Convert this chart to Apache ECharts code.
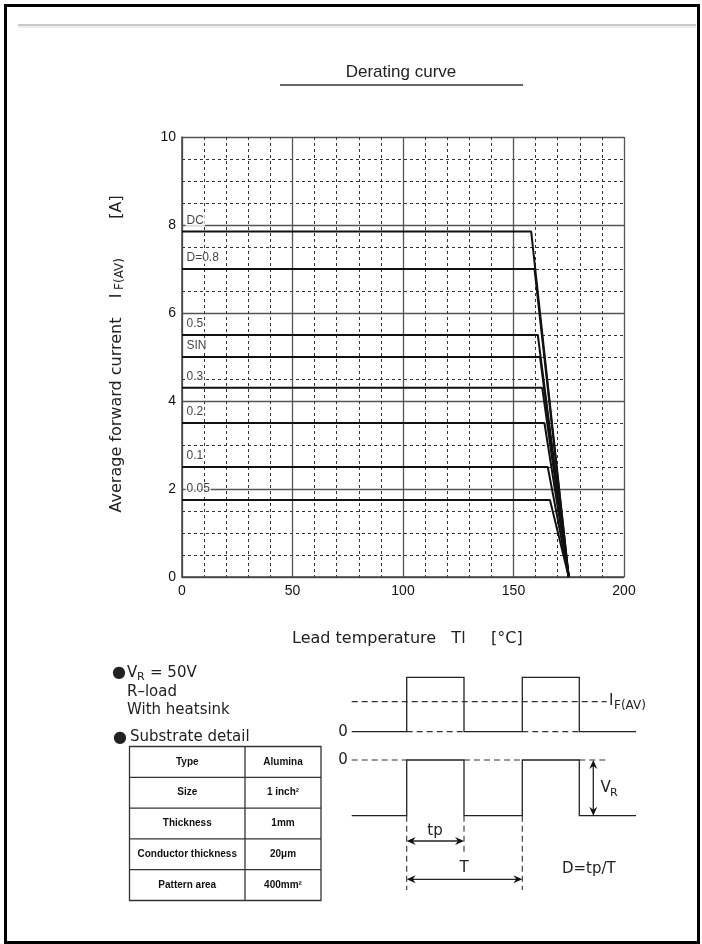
<!DOCTYPE html>
<html>
<head>
<meta charset="utf-8">
<script src="https://cdn.jsdelivr.net/npm/echarts@6/dist/echarts.min.js"></script>
<style>
html,body{margin:0;padding:0;background:#fff;}
#chart{width:702px;height:944px;}
</style>
</head>
<body>
<div id="chart"></div>
<script>
// ---- data ----
const curveNames = ['DC', 'D=0.8', '0.5', 'SIN', '0.3', '0.2', '0.1', '0.05'];
const curveLevels = [7.85, 7.0, 5.5, 5.0, 4.3, 3.5, 2.5, 1.75];   // A, flat part
const kneeTemps = [158, 159.5, 161, 162, 163, 164, 165.5, 166.5]; // °C where derating starts
const zeroTemp = 175;                                              // °C where current reaches 0
const xTicks = [0, 50, 100, 150, 200];
const yTicks = [0, 2, 4, 6, 8, 10];
const tableRows = [
  ['Type', 'Alumina'],
  ['Size', '1 inch²'],
  ['Thickness', '1mm'],
  ['Conductor thickness', '20\u03bcm'],
  ['Pattern area', '400mm²']
];

const chart = echarts.init(document.getElementById('chart'), null, {renderer: 'canvas'});

const SANS = '"Liberation Sans", Arial, sans-serif';
const DJ = '"DejaVu Sans", sans-serif';

const curveSeries = curveNames.map((n, i) => ({
  name: n,
  type: 'line',
  xAxisIndex: 1, yAxisIndex: 1,
  symbol: 'none',
  lineStyle: {color: '#111', width: 2},
  data: [[0, curveLevels[i]], [kneeTemps[i], curveLevels[i]], [zeroTemp, 0]],
  z: 3
}));

const labelSeries = {
  type: 'scatter',
  xAxisIndex: 1, yAxisIndex: 1,
  symbolSize: 1,
  itemStyle: {color: 'rgba(0,0,0,0)'},
  data: curveLevels.map(v => [0, v]),
  label: {
    show: true,
    position: 'right',
    distance: 3,
    offset: [0, -11],
    formatter: p => curveNames[p.dataIndex],
    fontFamily: SANS,
    fontSize: 12,
    color: '#111',
    backgroundColor: '#fff',
    padding: [0, 1]
  },
  z: 4
};

// ---- decorative graphics (notes, table, waveform) ----
const g = [];
const stroke = '#222';
function line(x1, y1, x2, y2, opt) {
  opt = opt || {};
  g.push({type: 'line', shape: {x1, y1, x2, y2}, style: {stroke: opt.color || stroke, lineWidth: opt.w || 1.3, lineDash: opt.dash || null}, silent: true});
}
function poly(points, opt) {
  opt = opt || {};
  g.push({type: 'polyline', shape: {points}, style: {stroke: opt.color || stroke, lineWidth: opt.w || 1.3, fill: null}, silent: true});
}
function text(t, x, y, opt) {
  opt = opt || {};
  g.push({type: 'text', x, y, rotation: opt.rot || 0, style: {text: t, font: opt.font || ('15px ' + DJ), fill: opt.color || '#222', align: opt.align || 'left', verticalAlign: 'middle'}, silent: true});
}
function arrowHead(x, y, dir) {
  const L = 9, W = 4;
  let pts;
  if (dir === 'l') pts = [[x, y], [x + L, y - W], [x + L - 3, y], [x + L, y + W]];
  if (dir === 'r') pts = [[x, y], [x - L, y - W], [x - L + 3, y], [x - L, y + W]];
  if (dir === 'u') pts = [[x, y], [x - W, y + L], [x, y + L - 3], [x + W, y + L]];
  if (dir === 'd') pts = [[x, y], [x - W, y - L], [x, y - L + 3], [x + W, y - L]];
  g.push({type: 'polygon', shape: {points: pts}, style: {fill: '#111'}, silent: true});
}

// outer frame and top rule
g.push({type: 'rect', shape: {x: 5.5, y: 5.5, width: 693, height: 937}, style: {stroke: '#000', lineWidth: 3, fill: null}, silent: true});
line(18, 25, 696, 25, {color: '#c8c8c8', w: 2});
line(18, 27, 696, 27, {color: '#eeeeee', w: 2});

// title
text('Derating curve', 401, 72, {font: '17px ' + SANS, align: 'center', color: '#222'});
line(280, 85, 523, 85, {color: '#666', w: 2});

// axis titles
text('Lead temperature   Tl     [\u00b0C]', 292, 639, {font: '16px ' + DJ, color: '#222'});
text('Average forward current', 117, 415, {font: '16px ' + DJ, align: 'center', rot: Math.PI / 2});
text('I', 117, 296, {font: '16px ' + DJ, align: 'center', rot: Math.PI / 2});
text('F(AV)', 120, 274, {font: '12px ' + DJ, align: 'center', rot: Math.PI / 2});
text('[A]', 117, 207, {font: '16px ' + DJ, align: 'center', rot: Math.PI / 2});

// notes
text('\u25cf', 112, 673, {font: '16px ' + DJ});
text('V', 127, 673, {font: '15px ' + DJ});
text('R', 137, 677, {font: '11px ' + DJ});
text('= 50V', 150, 673, {font: '15px ' + DJ});
text('R\u2013load', 127, 692.5, {font: '15px ' + DJ});
text('With heatsink', 127, 710.5, {font: '15px ' + DJ});
text('\u25cf', 113, 737.5, {font: '16px ' + DJ});
text('Substrate detail', 130, 737.5, {font: '15px ' + DJ});

// table
const tL = 129.5, tR = 321, tT = 746.5, tB = 900.5, tC = 245;
const rowH = (tB - tT) / tableRows.length;
g.push({type: 'rect', shape: {x: tL, y: tT, width: tR - tL, height: tB - tT}, style: {stroke: '#333', lineWidth: 1.3, fill: null}, silent: true});
line(tC, tT, tC, tB, {color: '#333', w: 1.3});
tableRows.forEach((r, i) => {
  if (i > 0) line(tL, tT + i * rowH, tR, tT + i * rowH, {color: '#333', w: 1.3});
  const cy = tT + (i + 0.5) * rowH;
  text(r[0], (tL + tC) / 2, cy, {font: 'bold 10px ' + SANS, align: 'center', color: '#111'});
  text(r[1], (tC + tR) / 2, cy, {font: 'bold 10px ' + SANS, align: 'center', color: '#111'});
});

// waveform diagram
const xs = 351.7, e1 = 406.7, e2 = 464, e3 = 522.3, e4 = 579.3, xe = 636;
const iTop = 677.3, iBase = 731.7, iAvg = 701.7;
const vZero = 760, vLow = 815.7;
const dash = [6, 4];
// current
poly([[xs, iBase], [e1, iBase], [e1, iTop], [e2, iTop], [e2, iBase], [e3, iBase], [e3, iTop], [e4, iTop], [e4, iBase], [xe, iBase]]);
line(e1, iBase, e2, iBase, {dash, color: '#333', w: 1.2});
line(e3, iBase, e4, iBase, {dash, color: '#333', w: 1.2});
line(xs, iAvg, 606.7, iAvg, {dash, color: '#333', w: 1.2});
text('I', 609, 701, {font: '15px ' + DJ});
text('F(AV)', 614, 705.5, {font: '12px ' + DJ});
text('0', 343, 732, {font: '15px ' + DJ, align: 'center'});
// voltage
poly([[xs, vLow], [e1, vLow], [e1, vZero], [e2, vZero], [e2, vLow], [e3, vLow], [e3, vZero], [e4, vZero], [e4, vLow], [xe, vLow]]);
line(xs, vZero, e1, vZero, {dash, color: '#333', w: 1.2});
line(e2, vZero, e3, vZero, {dash, color: '#333', w: 1.2});
line(e4, vZero, 606.7, vZero, {dash, color: '#333', w: 1.2});
text('0', 343, 760, {font: '15px ' + DJ, align: 'center'});
// VR arrow
line(593.3, vZero + 3, 593.3, vLow - 3, {w: 1.3});
arrowHead(593.3, vZero, 'u');
arrowHead(593.3, vLow, 'd');
text('V', 600.5, 788, {font: '15px ' + DJ});
text('R', 610, 793, {font: '11px ' + DJ});
// vertical dashed guides
line(e1, vLow, e1, 890, {dash, color: '#333', w: 1.1});
line(e2, vLow, e2, 853, {dash, color: '#333', w: 1.1});
line(e3, vLow, e3, 890, {dash, color: '#333', w: 1.1});
// tp arrow
line(e1 + 3, 841, e2 - 3, 841, {w: 1.3});
arrowHead(e1, 841, 'l');
arrowHead(e2, 841, 'r');
text('tp', 435, 831, {font: '15px ' + DJ, align: 'center'});
// T arrow
line(e1 + 3, 879.3, e3 - 3, 879.3, {w: 1.3});
arrowHead(e1, 879.3, 'l');
arrowHead(e3, 879.3, 'r');
text('T', 464, 868, {font: '15px ' + DJ, align: 'center'});
text('D=tp/T', 562, 869, {font: '15px ' + DJ});

const option = {
  animation: false,
  backgroundColor: '#fff',
  grid: {left: 182, top: 137, width: 442, height: 440, containLabel: false},
  xAxis: [
    {
      type: 'value', min: 0, max: 200, interval: 10, position: 'bottom',
      axisLine: {show: false}, axisTick: {show: false}, axisLabel: {show: false},
      splitLine: {show: true, lineStyle: {color: '#333', width: 1, type: [3, 3]}}
    },
    {
      type: 'value', min: xTicks[0], max: xTicks[xTicks.length - 1], interval: 50, position: 'bottom',
      axisLine: {show: true, onZero: false, lineStyle: {color: '#444', width: 1.5}},
      axisTick: {show: false},
      axisLabel: {show: true, margin: 7, fontFamily: SANS, fontSize: 14, color: '#111'},
      splitLine: {show: true, lineStyle: {color: '#555', width: 1.3, type: 'solid'}}
    }
  ],
  yAxis: [
    {
      type: 'value', min: 0, max: 10, interval: 0.5, position: 'left',
      axisLine: {show: false}, axisTick: {show: false}, axisLabel: {show: false},
      splitLine: {show: true, lineStyle: {color: '#333', width: 1, type: [3, 3]}}
    },
    {
      type: 'value', min: yTicks[0], max: yTicks[yTicks.length - 1], interval: 2, position: 'left',
      axisLine: {show: true, onZero: false, lineStyle: {color: '#444', width: 1.5}},
      axisTick: {show: false},
      axisLabel: {show: true, margin: 6, fontFamily: SANS, fontSize: 14, color: '#111'},
      splitLine: {show: true, lineStyle: {color: '#555', width: 1.3, type: 'solid'}}
    }
  ],
  series: curveSeries.concat([labelSeries]),
  graphic: g
};
chart.setOption(option);
</script>
</body>
</html>
